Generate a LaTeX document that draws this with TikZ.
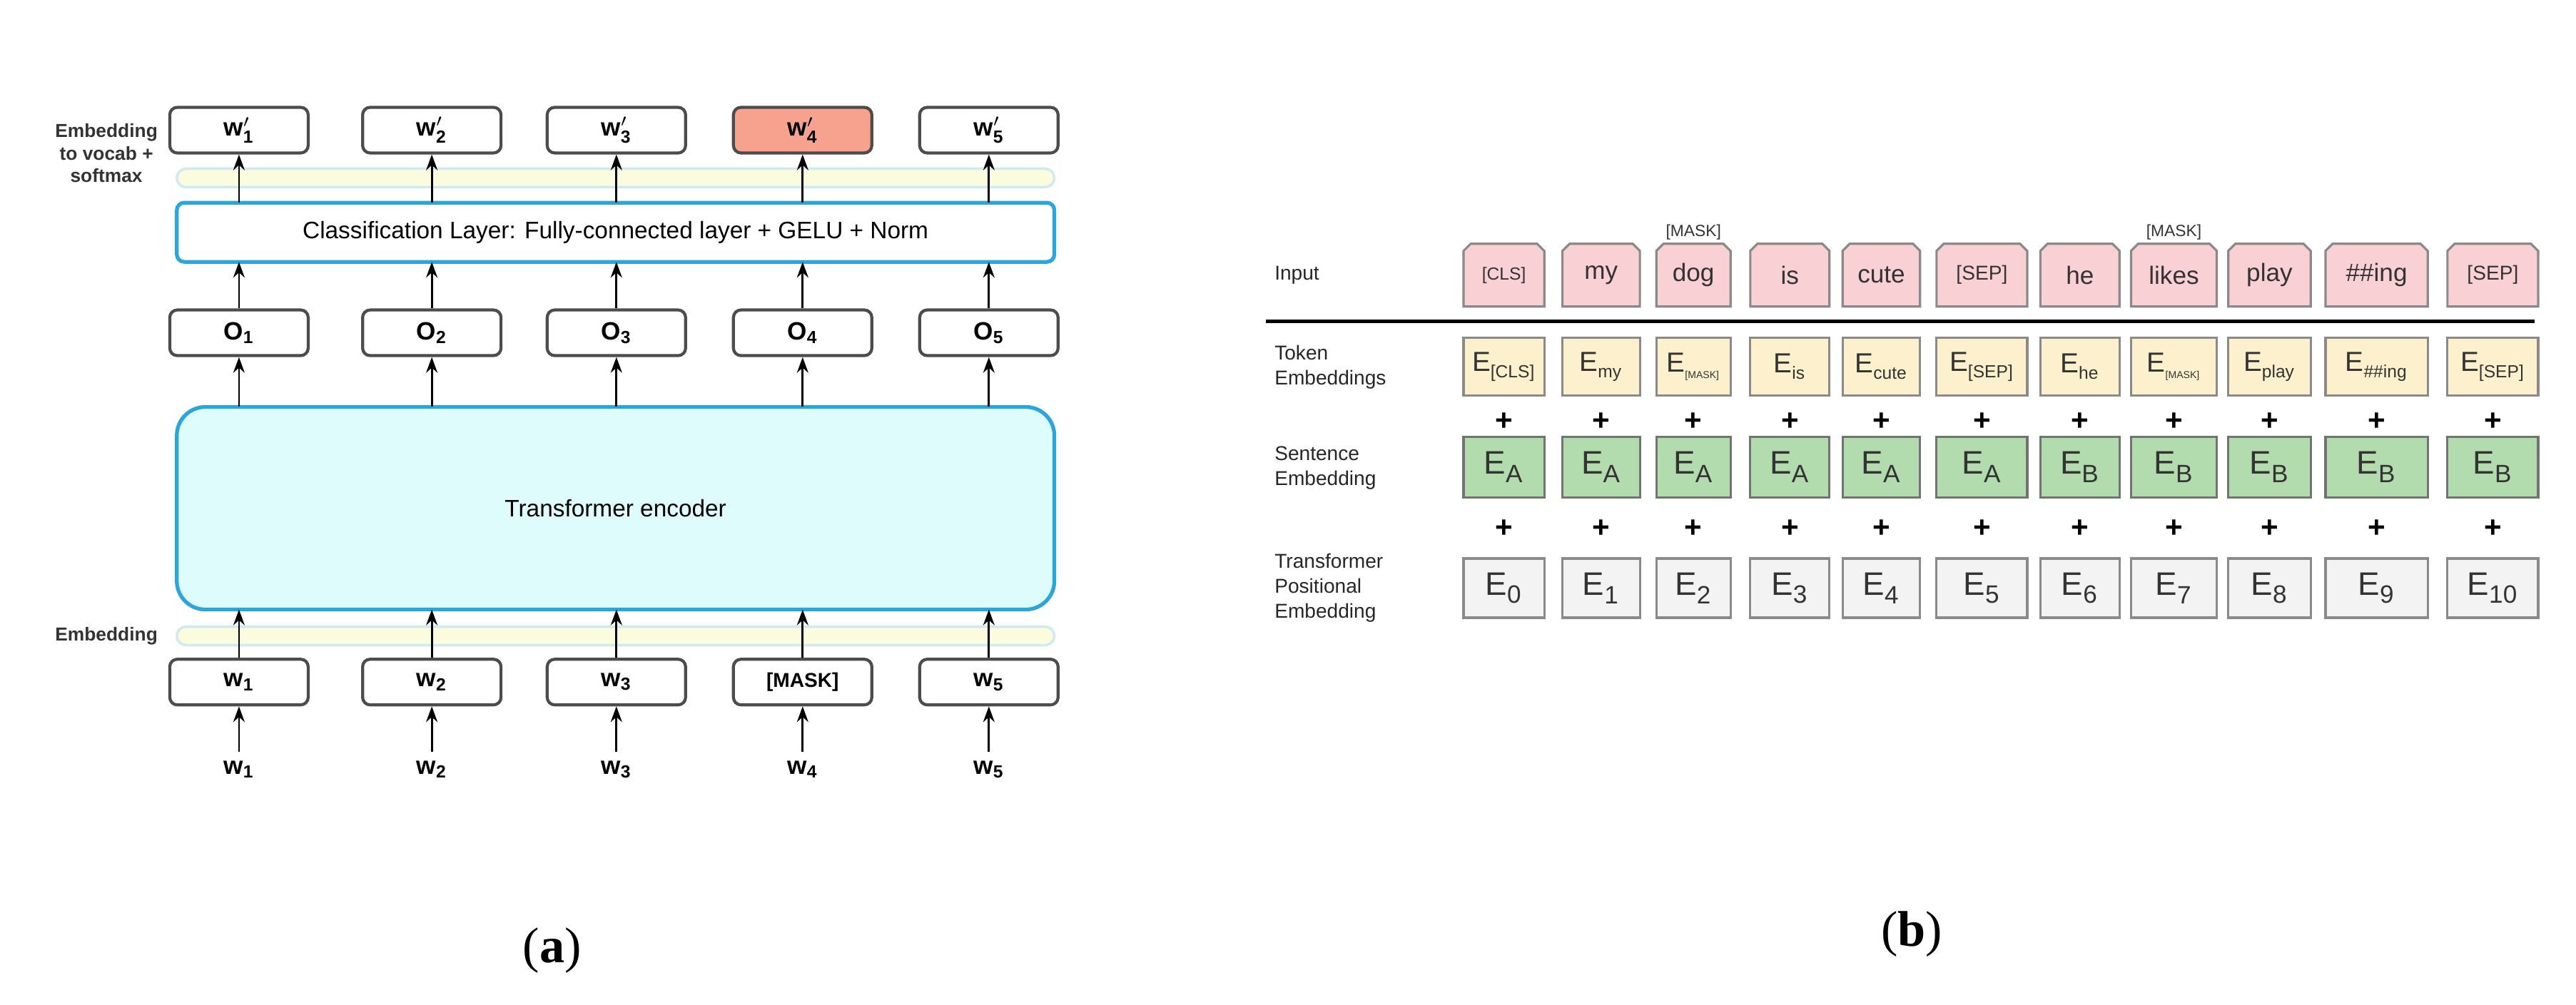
\documentclass[tikz,border=0pt]{standalone}
\usepackage{fontspec}
\setmainfont{Liberation Sans}
\newfontfamily\serifm{Liberation Serif}
\usetikzlibrary{shapes.misc,arrows.meta}
\definecolor{encfill}{HTML}{DFFCFD}
\definecolor{encline}{HTML}{2AA6DC}
\definecolor{barfill}{HTML}{FBFBDE}
\definecolor{barline}{HTML}{CFEAF2}
\definecolor{redbox}{HTML}{F6A28E}
\definecolor{inpfill}{HTML}{F9D0D4}
\definecolor{tokfill}{HTML}{FDF0CC}
\definecolor{senfill}{HTML}{B2DCAE}
\definecolor{posfill}{HTML}{F3F3F3}
\definecolor{bord}{HTML}{8A8A8A}
\tikzset{
 wbox/.style={draw=black!70,line width=1.2pt,rounded corners=3pt,minimum width=19.4mm,minimum height=6.4mm,inner sep=0pt,font=\fontsize{10}{12}\selectfont\bfseries},
 bar/.style={draw=barline,fill=barfill,line width=1pt,rounded corners=1.3mm,minimum width=123mm,minimum height=2.6mm,inner sep=0pt},
 bigbox/.style={draw=encline,line width=1.5pt,rounded corners=3pt,minimum width=123mm,inner sep=0pt},
 arr/.style={-{Stealth[length=2.2mm,width=1.6mm]},line width=0.8pt},
 side/.style={font=\fontsize{7.5}{9}\selectfont\bfseries,align=center,text=black!80},
 eb/.style={draw=bord,line width=0.9pt,inner sep=0pt,font=\fontsize{11}{13}\selectfont,text=black!80},
 rowlab/.style={font=\fontsize{8}{10}\selectfont,align=left,anchor=west,text=black!85},
 plus/.style={font=\fontsize{12}{12}\selectfont\bfseries},
 captxt/.style={font=\serifm\fontsize{20}{24}\selectfont}
}
\begin{document}
\begin{tikzpicture}[x=0.231mm,y=-0.231mm]
\useasboundingbox (0,0) rectangle (1563,610);
% ---------- panel (a)
\node[bar] (bartop) at (373.5,108) {};
\node[bigbox,minimum height=8.3mm,fill=white] (cls) at (373.5,141) {\fontsize{9.5}{11}\selectfont Classification Layer: Fully-connected layer + GELU + Norm};
\node[bigbox,minimum height=28.4mm,fill=encfill,rounded corners=4mm] (enc) at (373.5,308.5) {\fontsize{9.5}{11}\selectfont Transformer encoder};
\node[bar] (barbot) at (373.5,386) {};
\node[side,anchor=east] (lab1) at (101,93) {Embedding\\to vocab +\\softmax};
\node[side,anchor=east] (lab2) at (101,386) {Embedding};
\foreach \x/\i/\wl/\fill in {145/1/{w$'_{\mathbf 1}$}/white,262/2/{w$'_{\mathbf 2}$}/white,374/3/{w$'_{\mathbf 3}$}/white,487/4/{w$'_{\mathbf 4}$}/redbox,600/5/{w$'_{\mathbf 5}$}/white}{
 \node[wbox,fill=\fill] (wp\i) at (\x,79) {\wl};
 \node[wbox,fill=white] (o\i) at (\x,202) {O$_{\mathbf\i}$};
 \coordinate (ct\i) at (\x,123);
 \coordinate (cb\i) at (\x,159);
 \coordinate (et\i) at (\x,247);
 \coordinate (eb\i) at (\x,370);
 \draw[arr] (ct\i) -- (wp\i.south);
 \draw[arr] (o\i.north) -- (cb\i);
 \draw[arr] (et\i) -- (o\i.south);
}
\foreach \x/\i/\lab in {145/1/w$_{\mathbf 1}$,262/2/w$_{\mathbf 2}$,374/3/w$_{\mathbf 3}$,487/4/{[MASK]},600/5/w$_{\mathbf 5}$}{
 \node[wbox,fill=white] (w\i) at (\x,414) {\ifnum\i=4 \fontsize{8}{10}\selectfont\bfseries\fi\lab};
 \draw[arr] (w\i.north) -- (eb\i);
}
\foreach \x/\i in {145/1,262/2,374/3,487/4,600/5}{
 \node[font=\fontsize{10}{12}\selectfont\bfseries] (in\i) at (\x,467) {w$_{\mathbf\i}$};
 \draw[arr] (in\i.north) -- (w\i.south);
}
\node[captxt] (capa) at (335,577) {(\textbf{a})};
% ---------- panel (b)
\node[rowlab] (linput) at (768,167) {Input};
\node[rowlab] (ltok) at (768,223) {Token\\Embeddings};
\node[rowlab] (lsen) at (768,284) {Sentence\\Embedding};
\node[rowlab] (lpos) at (768,357) {Transformer\\Positional\\Embedding};
\coordinate (la) at (768,195); \coordinate (lb) at (1538,195);
\draw[line width=1.6pt] (la) -- (lb);
\foreach \a/\b/\tok/\te/\se/\pe [count=\i] in {
 888/937/{\fontsize{7}{8}\selectfont[CLS]}/{[CLS]}/A/0,
 948/995/my/my/A/1,
 1005/1050/dog/{\fontsize{4}{5}\selectfont[MASK]}/A/2,
 1062/1110/is/is/A/3,
 1118/1165/cute/cute/A/4,
 1175/1230/{\fontsize{8}{10}\selectfont[SEP]}/{[SEP]}/A/5,
 1238/1286/he/he/B/6,
 1293/1345/likes/{\fontsize{4}{5}\selectfont[MASK]}/B/7,
 1352/1402/play/play/B/8,
 1411/1473/\#\#ing/\#\#ing/B/9,
 1485/1540/{\fontsize{8}{10}\selectfont[SEP]}/{[SEP]}/B/10}{
 \pgfmathsetmacro\ww{(\b-\a)*0.231}
 \pgfmathsetmacro\cc{(\a+\b)/2}
 \node[eb,chamfered rectangle,chamfered rectangle corners={north west,north east},chamfered rectangle sep=0.5mm,fill=inpfill,minimum width=\ww mm,minimum height=8.8mm,font=\fontsize{10}{12}\selectfont] (inp\i) at (\cc,167) {\tok};
 \node[eb,fill=tokfill,minimum width=\ww mm,minimum height=8.1mm] (tok\i) at (\cc,222.5) {E$_{\raisebox{-1pt}{\fontsize{7}{8}\selectfont\te}}$};
 \node[plus] (p1\i) at (\cc,256) {+};
 \node[eb,fill=senfill,draw=black!55,minimum width=\ww mm,minimum height=8.5mm,font=\fontsize{13}{15}\selectfont] (sen\i) at (\cc,283.5) {E$_{\raisebox{-1.5pt}{\fontsize{10}{11}\selectfont\se}}$};
 \node[plus] (p2\i) at (\cc,321) {+};
 \node[eb,fill=posfill,minimum width=\ww mm,minimum height=8.3mm,font=\fontsize{13}{15}\selectfont] (pos\i) at (\cc,357) {E$_{\raisebox{-1.5pt}{\fontsize{10}{11}\selectfont\pe}}$};
}
\node[font=\fontsize{6.5}{8}\selectfont,text=black!80] (m1) at (1027.5,141) {[MASK]};
\node[font=\fontsize{6.5}{8}\selectfont,text=black!80] (m2) at (1319,141) {[MASK]};
\node[captxt] (capb) at (1160,567) {(\textbf{b})};
\end{tikzpicture}
\end{document}
